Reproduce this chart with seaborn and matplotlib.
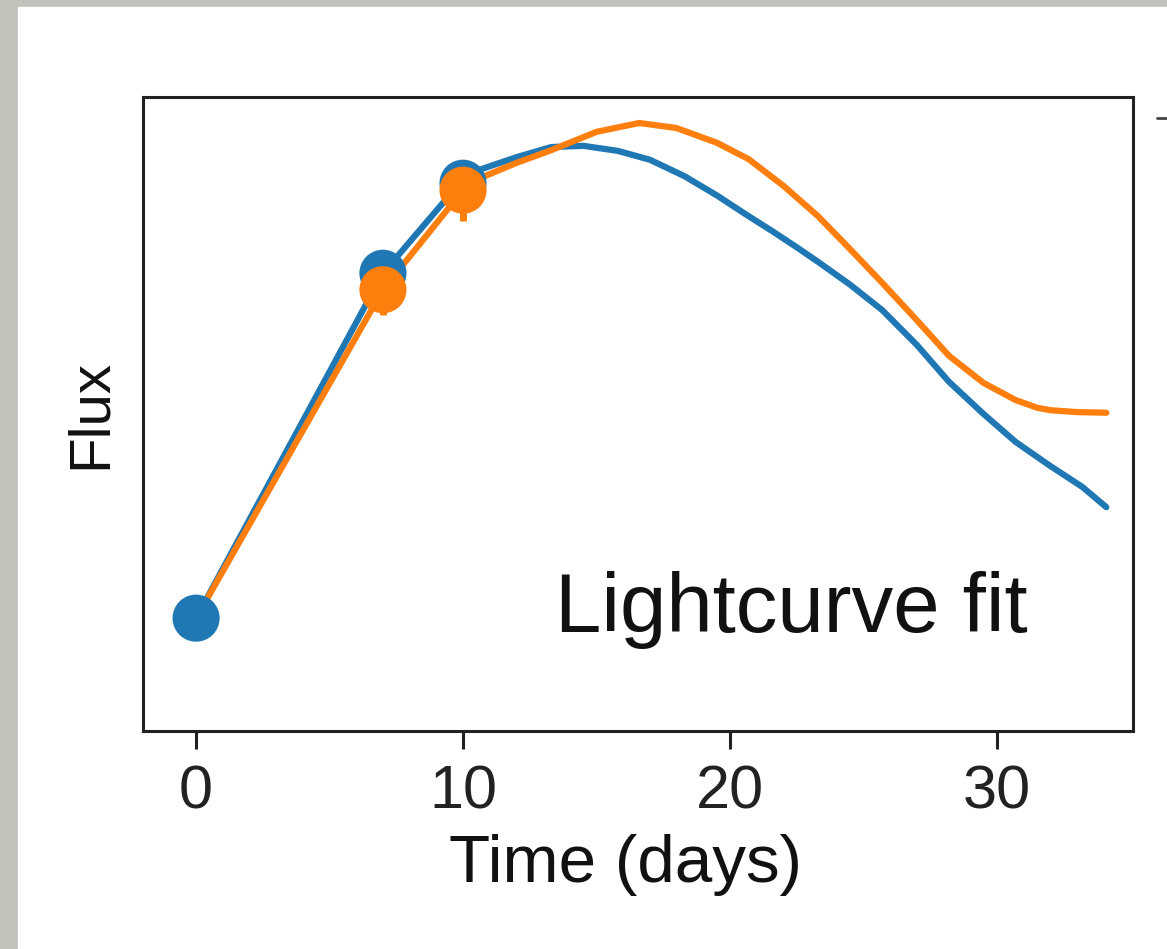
import seaborn as sns
import matplotlib.pyplot as plt
import pandas as pd
from matplotlib.patches import Rectangle
from matplotlib.lines import Line2D

# measured points (days, flux in arbitrary units)
obs_days_blue = [0, 7, 10]
obs_flux_blue = [0.178, 0.722, 0.864]
obs_days_orange = [7, 10]
obs_flux_orange = [0.696, 0.853]
obs_err_low = [0.04, 0.048]

# fitted lightcurves
fit_days_blue = [0, 7, 10, 10.6, 12.0, 13.3, 14.5, 15.8, 17.0, 18.3, 19.5, 20.7,
                 21.6, 22.5, 23.3, 24.5, 25.7, 27.0, 28.2, 29.5, 30.7, 32.0, 33.2, 34.1]
fit_flux_blue = [0.178, 0.722, 0.870, 0.885, 0.905, 0.921, 0.923, 0.915, 0.901, 0.875, 0.845, 0.812,
                 0.788, 0.763, 0.740, 0.704, 0.664, 0.609, 0.551, 0.500, 0.456, 0.418, 0.385, 0.353]
fit_days_orange = [0, 7, 10, 10.75, 12.0, 13.3, 15.0, 16.6, 18.0, 19.5, 20.7,
                   22.0, 23.3, 24.5, 25.7, 27.0, 28.2, 29.5, 30.7, 31.5, 32.0, 33.0, 34.1]
fit_flux_orange = [0.178, 0.696, 0.853, 0.874, 0.896, 0.916, 0.945, 0.959, 0.951, 0.928, 0.902,
                   0.860, 0.812, 0.760, 0.707, 0.648, 0.592, 0.549, 0.522, 0.510, 0.506, 0.503, 0.502]

BLUE = '#1f77b4'
ORANGE = '#ff7f0e'

sns.set_style('ticks')
plt.rcParams['font.family'] = ['Liberation Sans', 'DejaVu Sans']

fig = plt.figure(figsize=(11.67, 9.49), dpi=100)
# screenshot frame
fig.patches.append(Rectangle((0, 0), 1, 1, transform=fig.transFigure, color='#c2c2bb', zorder=-10))
fig.patches.append(Rectangle((18 / 1167, 0), 1, (949 - 7) / 949, transform=fig.transFigure,
                             color='white', zorder=-9))

ax = fig.add_axes([0.1225, 0.2297, 0.9709 - 0.1225, 0.8978 - 0.2297])

blue_fit = pd.DataFrame({'days': fit_days_blue, 'flux': fit_flux_blue})
orange_fit = pd.DataFrame({'days': fit_days_orange, 'flux': fit_flux_orange})
sns.lineplot(data=blue_fit, x='days', y='flux', color=BLUE, linewidth=4.5, ax=ax, zorder=2)
sns.lineplot(data=orange_fit, x='days', y='flux', color=ORANGE, linewidth=4.5, ax=ax, zorder=3)

sns.scatterplot(x=obs_days_blue, y=obs_flux_blue, color=BLUE, s=1150, edgecolor='none', ax=ax, zorder=5)
ax.errorbar(obs_days_orange, obs_flux_orange, yerr=[obs_err_low, [0, 0]], fmt='none',
            ecolor=ORANGE, elinewidth=5, zorder=6)
sns.scatterplot(x=obs_days_orange, y=obs_flux_orange, color=ORANGE, s=1150, edgecolor='none', ax=ax, zorder=7)

ax.set_xlim(-1.99, 35.1)
ax.set_ylim(0, 1)
ax.set_xticks([0, 10, 20, 30])
ax.set_yticks([])
ax.tick_params(axis='x', length=13, width=2.2, labelsize=44, pad=11, colors='#222222')
for sp in ax.spines.values():
    sp.set_linewidth(2.2)
    sp.set_color('#222222')

ax.set_xlabel('Time (days)', fontsize=48.5, labelpad=9, color='#111111')
ax.xaxis.label.set_x(0.487)
ax.set_ylabel('Flux', fontsize=42, labelpad=18, color='#111111')
ax.text(0.416, 0.156, 'Lightcurve fit', transform=ax.transAxes, fontsize=60,
        va='baseline', ha='left', color='#111111')

# edge of the neighbouring panel
fig.add_artist(Line2D([1157 / 1167, 1167 / 1167], [1 - 118 / 949, 1 - 118 / 949],
                      transform=fig.transFigure, color='#444444', linewidth=2))

plt.savefig('out.png', dpi=100)
